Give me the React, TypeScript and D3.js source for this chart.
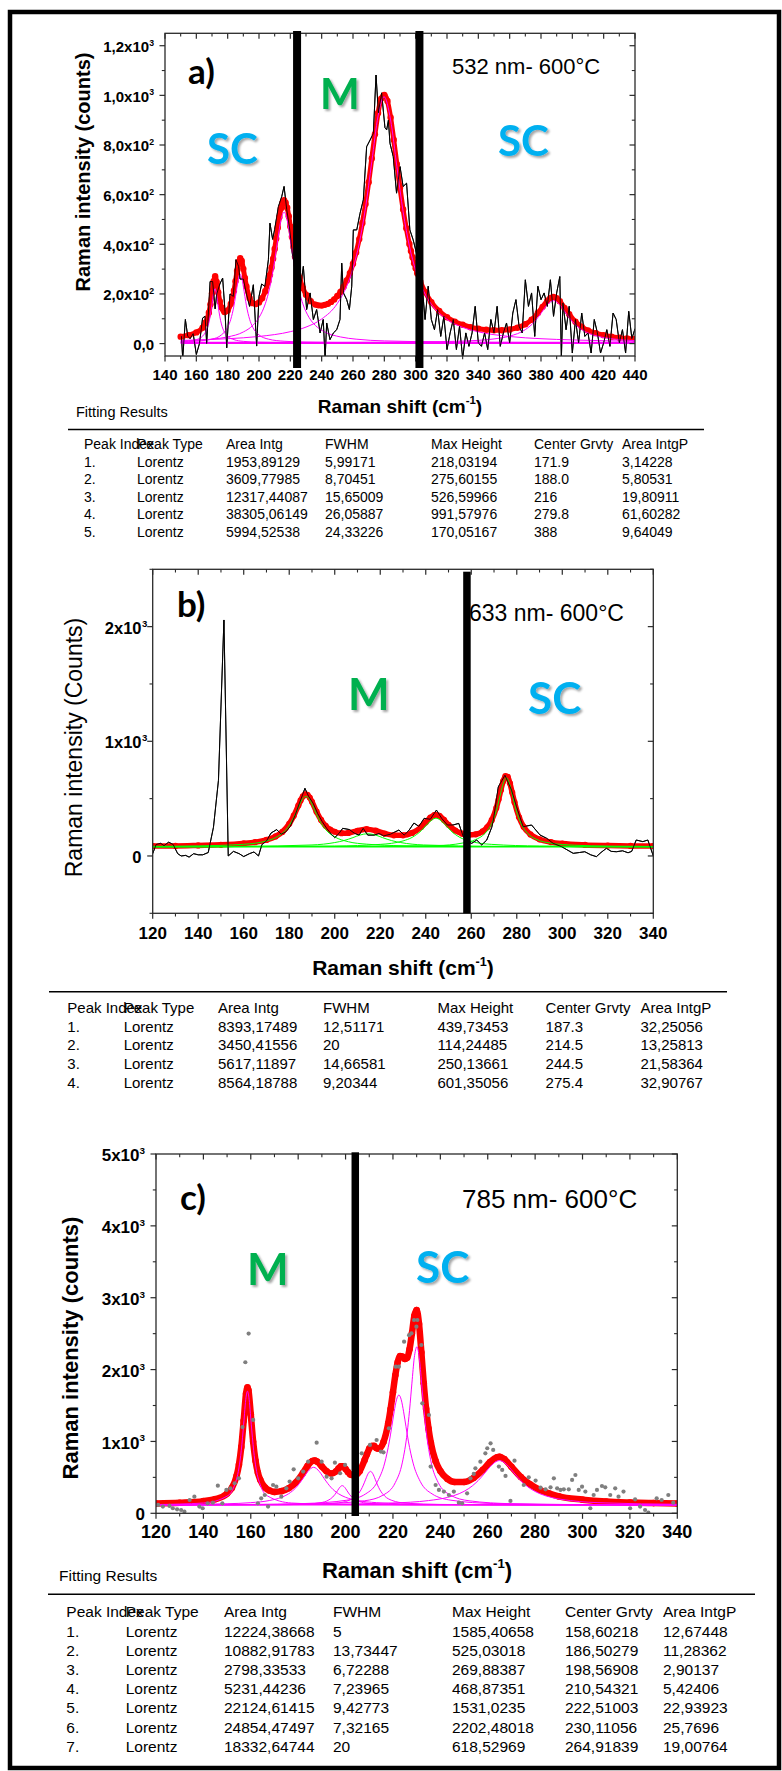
import React from "react";
import * as d3 from "d3";

type Pt = [number, number];

// ---------------- Panel a (532 nm) ----------------
const aRaw: Pt[] = [[150.5,30],[151.3,-60],[153,97],[154.5,30],[156,20],[158,40],[160,-44],[162,0],[164,103],[165.6,110],[166.6,0],[168.8,250],[170.4,250],[172,140],[173,200],[175,240],[176.8,264],[178.3,130],[179.4,-17],[181.5,200],[183.6,190],[185.3,338],[187,310],[187.9,260],[190,260],[192,200],[194,150],[196.4,237],[198.5,-10],[200,190],[201.7,240],[203.8,230],[206,338],[207,485],[208.7,420],[210,460],[212.4,552],[214.5,592],[216,633],[217.7,540],[219.4,470],[221.5,351],[223.5,300],[226,200],[228.3,311],[230.4,137],[232.6,204],[234.7,97],[236.8,137],[239,43],[241,97],[242.2,-60],[243.2,83],[245.3,16],[247.5,43],[249.6,56],[251.7,97],[252.8,324],[253.9,204],[256,177],[257.7,137],[259.2,231],[260.2,458],[262.4,458],[264.5,525],[266.6,579],[268.7,793],[270.9,820],[273,847],[274.7,1082],[276.2,930],[278.3,1010],[279.3,941],[280.4,870],[281.5,861],[282.6,900],[283.6,807],[285.7,753],[287.8,606],[290,713],[292,633],[294.2,646],[296.3,458],[298.4,418],[300.5,365],[302.5,280],[304,244],[306,97],[308,231],[310,97],[312,56],[314,137],[316,29],[318,110],[320,-24],[322,43],[324,97],[326,-24],[328,70],[330,-60],[332,43],[334,-11],[336,43],[338,150],[340,3],[342,-11],[344,43],[346,-24],[348,97],[350,43],[352,150],[354,-11],[356,43],[358,83],[360,3],[362,123],[364,177],[366,70],[368,43],[370,257],[372,150],[374,204],[376,29],[378,231],[380,177],[382,204],[384,150],[386,257],[388,110],[390,204],[392,270],[393,-60],[394,164],[396,56],[398,150],[400,-38],[402,97],[404,3],[406,123],[408,29],[410,43],[412,-38],[414,97],[416,43],[418,-38],[420,3],[422,56],[424,-11],[426,123],[428,97],[430,3],[432,56],[434,-38],[436,130],[438,20],[440,60]];

const aFit: Pt[] = [[150,28],[155,34],[160,45],[164,64],[166,85],[168,124],[169,158],[170,203],[171,250],[172,271],[173,248],[174,206],[175,170],[176,146],[178,127],[180,133],[182,160],[184,213],[185,251],[186,293],[187,329],[188,344],[189,333],[190,301],[191,264],[192,230],[194,184],[196,163],[198,159],[200,166],[202,183],[204,211],[206,251],[207,277],[208,307],[209,342],[210,381],[211,423],[212,467],[213,509],[214,544],[215,567],[216,578],[217,568],[218,547],[219,513],[220,472],[221,430],[222,389],[223,351],[224,318],[226,264],[228,224],[230,197],[233,171],[236,157],[238,154],[240,153],[242,156],[244,160],[246,168],[248,178],[250,192],[252,208],[254,229],[256,254],[258,284],[260,322],[262,367],[264,421],[266,486],[268,562],[270,650],[272,746],[274,843],[276,929],[278,987],[280,1002],[282,977],[284,911],[286,821],[288,723],[290,627],[292,540],[294,465],[296,401],[297,373],[298,348],[299,324],[300,303],[301,283],[303,249],[306,208],[310,167],[315,131],[320,106],[325,88],[330,76],[335,66],[340,60],[345,56],[350,54],[355,54],[360,57],[365,64],[370,78],[374,96],[378,123],[381,148],[384,173],[386,184],[388,188],[390,183],[392,171],[395,144],[398,118],[402,88],[406,68],[410,53],[415,42],[420,34],[425,28],[430,24],[435,21],[440,19]];

const aPeak1: Pt[] = [[150,7],[160,16],[164,30],[166,48],[168,84],[169,116],[170,159],[171,203],[171.9,221],[173,195],[174,149],[175,108],[176,79],[178,45],[180,29],[184,16],[190,9],[200,5.5],[220,3.8],[260,3.3],[440,3]];
const aPeak2: Pt[] = [[150,6.6],[160,9.5],[170,18],[176,35],[180,66],[182,98],[184,152],[185,190],[186,230],[187,265],[188,279],[189,265],[190,230],[191,190],[192,152],[194,98],[196,66],[200,35],[206,18],[216,9.5],[230,6],[260,4],[440,3.1]];
const aPeak3: Pt[] = [[150,10.3],[170,17.8],[180,26.8],[190,46.8],[196,73],[200,104.7],[204,160],[206,203],[208,260.6],[210,334.8],[212,420.6],[214,497.4],[216,529.6],[218,497.4],[220,420.6],[222,334.8],[224,260.6],[226,203],[228,160],[232,104.7],[236,73],[242,46.8],[252,26.8],[262,17.8],[280,10.8],[320,6.5],[380,4.2],[440,3.7]];
const aPeak4: Pt[] = [[150,12.9],[180,19.6],[200,28.7],[220,48],[230,66.5],[240,99],[250,161.5],[256,231.5],[260,303],[264,404.5],[268,548],[272,733],[276,917],[279.8,994.6],[284,901],[288,713],[292,531],[296,392.6],[300,294.6],[306,199.7],[310,158.7],[320,97.3],[330,65.6],[340,47.4],[360,28.5],[380,19.6],[400,14.7],[420,11.5],[440,9.5]];
const aPeak5: Pt[] = [[150,3.4],[250,4.3],[300,6.2],[330,10.2],[350,18.8],[360,30],[370,56.3],[376,89],[380,122],[384,156.4],[388,173],[392,156.4],[396,122],[400,89],[406,56.3],[416,30],[426,18.8],[440,11.8]];
const aBase: Pt[] = [[150,3],[440,3]];
const aDividers = [224.3, 302.4];
const aXTicks = [140,160,180,200,220,240,260,280,300,320,340,360,380,400,420,440];
const aYTicks = [0,200,400,600,800,1000,1200];
const aYLabelMain = ["0,0","2,0x10","4,0x10","6,0x10","8,0x10","1,0x10","1,2x10"];
const aYLabelSup = ["","2","2","2","2","3","3"];
const aTableRows = [
  ["1.","Lorentz","1953,89129","5,99171","218,03194","171.9","3,14228"],
  ["2.","Lorentz","3609,77985","8,70451","275,60155","188.0","5,80531"],
  ["3.","Lorentz","12317,44087","15,65009","526,59966","216","19,80911"],
  ["4.","Lorentz","38305,06149","26,05887","991,57976","279.8","61,60282"],
  ["5.","Lorentz","5994,52538","24,33226","170,05167","388","9,64049"],
];

// ---------------- Panel b (633 nm) ----------------
const bRaw: Pt[] = [[120,20],[121.5,100],[123.5,110],[125,90],[127,120],[129,100],[131,20],[132.5,0],[134.5,5],[136,-10],[138,20],[140,10],[142,10],[144.4,30],[146.7,250],[148.9,660],[151.3,2058],[153.2,0],[155.5,40],[158,20],[160,-5],[162.5,20],[164.5,35],[166.5,0],[168,100],[170,130],[172,200],[174.5,230],[176.5,190],[178.5,210],[180.5,260],[182.5,350],[184.5,460],[186.9,590],[188.5,520],[190.5,460],[192.5,370],[194.5,300],[196.5,240],[198.5,190],[200,160],[201.9,197],[203.5,241],[206.5,230],[208.5,200],[210.7,182],[212.5,241],[214.5,182],[217.3,182],[219.5,197],[221.5,175],[224.5,190],[228.2,226],[230.5,182],[232.5,220],[234.8,287],[237,258],[239.3,328],[242,320],[244.7,400],[247,328],[249.5,270],[252,270],[254.5,284],[256.5,168],[258.5,125],[260.2,110],[262.4,139],[264.6,96],[266.8,139],[269,250],[269.7,313],[271.9,603],[274.8,704],[277.7,574],[279.9,429],[282.8,255],[286.5,270],[290.2,183],[293.1,154],[296,110],[299.7,81],[304.8,23],[307.5,30],[309.9,37],[312.5,10],[315,-6],[317,30],[319.4,67],[321.5,40],[323.8,37],[326.5,45],[328.9,28],[330.5,40],[332.5,139],[335.4,125],[337.6,139],[340,0]];

const bFit: Pt[] = [[120,87],[130,88],[140,92],[150,97],[160,109],[165,120],[170,140],[174,170],[177,210],[180,280],[182,351],[184,440],[185,484],[186,519],[187,538],[188,534],[189,510],[190,473],[192,386],[194,314],[196,263],[198,231],[200,211],[203,199],[206,201],[210,220],[214,234],[218,221],[222,195],[226,180],[230,180],[234,201],[238,253],[240,293],[242,334],[244,359],[246,350],[248,314],[250,272],[253,222],[256,194],[259,184],[262,189],[265,214],[267,250],[269,312],[271,418],[272,492],[273,574],[274,651],[275,696],[276,690],[277,634],[278,553],[279,469],[281,337],[283,255],[286,188],[290,145],[295,121],[300,108],[310,96],[320,91],[330,88],[340,86]];

const bPeak1: Pt[] = [[120,84],[140,88],[160,102],[170,131],[174,160],[177,199],[180,266],[182,336],[184,424],[186,502],[187.3,520],[189,490],[190,451],[192,361],[194,285],[196,230],[198,192],[200,166],[206,124],[214,103],[230,89],[260,83],[340,81]];
const bPeak2: Pt[] = [[120,81],[160,84],[190,96],[200,117],[204,134],[208,160],[211,182],[214.5,194],[218,182],[221,160],[225,134],[229,117],[239,96],[270,84],[340,81]];
const bPeak3: Pt[] = [[120,81],[200,87],[220,101],[230,131],[234,162],[238,220],[241,284],[244.5,330],[248,284],[251,220],[255,162],[259,131],[269,101],[290,87],[340,81.4]];
const bPeak4: Pt[] = [[120,80.5],[200,83.3],[230,86],[245,90.5],[256,112],[262,143.5],[265,178],[267,219],[269,285],[271,394],[273,553],[274,630],[275.4,681],[276.8,630],[277.8,553],[279.8,394],[281.8,285],[283.8,219],[285.8,178],[288.8,143.5],[294.8,112],[305.4,94],[320.4,86],[340,83]];
const bBase: Pt[] = [[120,80],[340,80]];
const bDividers = [258.1];
const bXTicks = [120,140,160,180,200,220,240,260,280,300,320,340];
const bYTicks = [0,1000,2000];
const bYLabelMain = ["0","1x10","2x10"];
const bYLabelSup = ["","3","3"];
const bTableRows = [
  ["1.","Lorentz","8393,17489","12,51171","439,73453","187.3","32,25056"],
  ["2.","Lorentz","3450,41556","20","114,24485","214.5","13,25813"],
  ["3.","Lorentz","5617,11897","14,66581","250,13661","244.5","21,58364"],
  ["4.","Lorentz","8564,18788","9,20344","601,35056","275.4","32,90767"],
];

// ---------------- Panel c (785 nm) ----------------
const cScatter: Pt[] = [[120.9,116],[122.9,93],[125.7,102],[127.1,70],[128.9,56],[130.6,46],[132,23],[134.2,185],[136.2,232],[138.3,93],[139.7,70],[141.8,139],[144,148],[146.1,385],[148,139],[149.7,325],[151.4,348],[153.2,418],[155,487],[156.5,1200],[157.7,2102],[159.1,2501],[161,1300],[163,139],[164.4,209],[165.9,255],[167.3,93],[169.4,394],[170.8,371],[172.9,232],[175,348],[176.4,441],[178.1,612],[180,487],[182.1,580],[184.2,719],[187.8,983],[189.9,719],[192,510],[194.1,487],[195.5,705],[197.7,557],[199.8,673],[206.8,835],[210.3,951],[213.1,1020],[214.9,859],[216,849],[218.3,1183],[221.2,2040],[222.5,2040],[224.7,2388],[226.8,2479],[227.8,2504],[228.9,2690],[229.9,2597],[230.3,2690],[232,2342],[232.4,1531],[235.2,1368],[235.9,650],[238,394],[239.4,325],[241.5,302],[243.6,255],[245.7,302],[247.8,148],[249.2,139],[251.3,278],[252.7,487],[254.1,548],[254.8,626],[256.9,719],[259,835],[259.8,905],[261.2,974],[262.3,882],[264.7,650],[266.1,603],[267.5,520],[269.6,172],[271.3,733],[275.2,394],[277.3,501],[280.2,455],[282.3,357],[284.4,334],[286.5,362],[287.9,487],[289.3,348],[290.7,325],[292.1,334],[294.2,334],[295.6,464],[297,533],[298.4,325],[299.8,371],[301.2,302],[303.3,70],[304.7,255],[306.1,325],[308.2,380],[309.6,362],[311.7,255],[313.8,348],[315.2,232],[317.3,302],[320.1,70],[322.2,195],[324.3,93],[326.4,46],[327.8,9],[331.3,209],[333.4,185],[336.2,255],[338.3,148]];

const cFit: Pt[] = [[120,137],[130,147],[140,169],[145,197],[150,275],[152,353],[154,519],[155,676],[156,923],[157,1288],[158,1664],[158.6,1752],[159,1713],[160,1377],[161,997],[162,732],[163,565],[164,467],[166,359],[168,315],[170,298],[173,308],[176,349],[179,429],[182,560],[184,662],[186,728],[187,734],[188,719],[190,652],[192,584],[194,553],[196,584],[197,621],[198,654],[199,654],[200,617],[201,573],[202,539],[204,528],[206,590],[208,739],[209,820],[210,901],[211,936],[212,938],[213,907],[214,898],[216,992],[218,1251],[219,1450],[220,1685],[221,1921],[222,2103],[223,2187],[224,2180],[225,2148],[226,2165],[227,2283],[228,2502],[229,2744],[230,2830],[231,2635],[232,2237],[233,1810],[234,1452],[235,1180],[236,981],[238,726],[240,589],[243,479],[246,435],[250,435],[254,492],[258,607],[261,714],[264,781],[265,786],[267,754],[270,647],[274,505],[278,400],[282,325],[286,275],[290,235],[300,190],[310,163],[320,150],[330,142],[340,137]];

const cPeak1: Pt[] = [[120,122],[140,143],[150,239],[153,378],[155,631],[156,877],[157,1240],[158,1614],[158.6,1700],[159.2,1614],[160.2,1240],[161.2,877],[162.2,631],[164.2,378],[167.2,239],[177.2,143],[200,121],[340,115.3]];
const cPeak2: Pt[] = [[120,120.5],[130,122.7],[150,133],[160,148],[168,178.6],[173,223],[176,272.4],[179,354.7],[182,482.4],[184,578.6],[186.5,640],[189,578.6],[191,482.4],[194,354.7],[197,272.4],[200,223],[205,178.6],[213,148],[223,133],[243,122.7],[280,118],[340,116]];
const cPeak3: Pt[] = [[120,115.5],[170,118.4],[183.6,127.9],[189.6,148],[192.6,179.5],[194.6,226.7],[195.6,265.3],[196.6,314.3],[197.6,363],[198.57,385],[199.6,363],[200.6,314.3],[201.6,265.3],[202.6,226.7],[204.6,179.5],[207.6,148],[213.6,127.9],[228.6,118.4],[340,115.1]];
const cPeak4: Pt[] = [[120,115.8],[180,121.7],[195.5,140.8],[201.5,180.3],[204.5,240],[206.5,326],[207.5,393],[208.5,474.3],[209.5,550.7],[210.54,583.9],[211.5,550.7],[212.5,474.3],[213.5,393],[214.5,326],[216.5,240],[219.5,180.3],[225.5,140.8],[240.5,121.7],[340,115.5]];
const cPeak5: Pt[] = [[120,118.4],[160,123.6],[182.5,135.9],[200.5,182.1],[208.5,270.7],[213.5,444],[216.5,699],[218.5,1005],[219.5,1204.7],[220.5,1412.5],[221.5,1580],[222.51,1646],[223.5,1580],[224.5,1412.5],[225.5,1204.7],[226.5,1005],[228.5,699],[231.5,444],[236.5,270.7],[244.5,182.1],[262.5,135.9],[300,120.6],[340,118.4]];
const cPeak6: Pt[] = [[120,117.5],[170,123.2],[190,133.3],[208,174.4],[216,255.9],[221,427.6],[224,712.5],[226,1118.9],[227,1432.6],[228,1811],[229,2164.6],[230.11,2317.5],[231.1,2164.6],[232.1,1811],[233.1,1432.6],[234.1,1118.9],[236.1,712.5],[239.1,427.6],[244.1,255.9],[252.1,174.4],[270.1,133.3],[300,121],[340,117.4]];
const cPeak7: Pt[] = [[120,117.9],[190,125.8],[220,144.1],[235,176.9],[243,220.9],[248,274],[252,344.9],[255,424.3],[257,492.1],[259,569.8],[261,648.2],[263,709.7],[264.92,733.5],[266.9,709.7],[268.9,648.2],[270.9,569.8],[272.9,492.1],[274.9,424.3],[277.9,344.9],[281.9,274],[286.9,220.9],[294.9,176.9],[309.9,144.1],[340,125.8]];
const cBase: Pt[] = [[120,118],[340,118]];
const cDividers = [204.1];
const cXTicks = [120,140,160,180,200,220,240,260,280,300,320,340];
const cYTicks = [0,1000,2000,3000,4000,5000];
const cYLabelMain = ["0","1x10","2x10","3x10","4x10","5x10"];
const cYLabelSup = ["","3","3","3","3","3"];
const cTableRows = [
  ["1.","Lorentz","12224,38668","5","1585,40658","158,60218","12,67448"],
  ["2.","Lorentz","10882,91783","13,73447","525,03018","186,50279","11,28362"],
  ["3.","Lorentz","2798,33533","6,72288","269,88387","198,56908","2,90137"],
  ["4.","Lorentz","5231,44236","7,23965","468,87351","210,54321","5,42406"],
  ["5.","Lorentz","22124,61415","9,42773","1531,0235","222,51003","22,93923"],
  ["6.","Lorentz","24854,47497","7,32165","2202,48018","230,11056","25,7696"],
  ["7.","Lorentz","18332,64744","20","618,52969","264,91839","19,00764"],
];

const tableHeaders = ["Peak Index","Peak Type","Area Intg","FWHM","Max Height","Center Grvty","Area IntgP"];

// ---------------- Styling / layout ----------------
const SANS = "'Liberation Sans', Arial, Helvetica, sans-serif";
const CAL = "Lato, 'Open Sans', sans-serif";
const RED = "#ff0000";
const MAGENTA = "#ff00ff";
const GREEN = "#00ff00";
const SC_BLUE = "#00b0f0";
const M_GREEN = "#00b050";

interface PanelProps {
  id: string;
  left: number; right: number; top: number; bottom: number;
  xDomain: [number, number]; yDomain: [number, number];
  xMinorStep: number; yMinorStep: number;
  xTicks: number[]; yTicks: number[]; yMain: string[]; ySup: string[];
  xTickFont: number; yTickFont: number; xLabelY: number; yLabelX: number; supOutside: boolean;
  raw?: Pt[]; scatter?: Pt[]; fit: Pt[]; comps: Pt[][]; base: Pt[];
  compColor: string; baseWidth: number; fitWidth: number; dotR: number;
  dividers: number[]; divW: number; divTop: number; divBottom: number;
}

function Panel(p: PanelProps) {
  const x = d3.scaleLinear().domain(p.xDomain).range([p.left, p.right]);
  const y = d3.scaleLinear().domain(p.yDomain).range([p.bottom, p.top]);
  const lineLin = d3.line<Pt>().x(d => x(d[0])).y(d => y(d[1]));
  const lineSmooth = d3.line<Pt>().x(d => x(d[0])).y(d => y(d[1])).curve(d3.curveMonotoneX);
  const clipId = "clip-" + p.id;
  const xMinor = d3.range(p.xDomain[0], p.xDomain[1] + 1e-6, p.xMinorStep).filter(v => !p.xTicks.includes(v));
  const yStart = Math.ceil(p.yDomain[0] / p.yMinorStep) * p.yMinorStep;
  const yMinor = d3.range(yStart, p.yDomain[1] + 1e-6, p.yMinorStep).filter(v => !p.yTicks.includes(v));
  const MJ = 5.5, MN = 3.2;
  const axisColor = "#2a2a2a";
  return (
    <g>
      <defs>
        <clipPath id={clipId}>
          <rect x={p.left} y={p.top} width={p.right - p.left} height={p.bottom - p.top} />
        </clipPath>
      </defs>
      <g clipPath={`url(#${clipId})`}>
        {p.raw && <path d={lineLin(p.raw) || ""} fill="none" stroke="#000" strokeWidth={1} />}
        <path d={lineSmooth(p.fit) || ""} fill="none" stroke={RED} strokeWidth={p.fitWidth} strokeLinejoin="round" />
        {p.fit.map((d, i) => (
          <circle key={"f" + i} cx={x(d[0])} cy={y(d[1])} r={p.dotR} fill={RED} />
        ))}
        <path d={lineLin(p.base) || ""} fill="none" stroke={p.compColor} strokeWidth={p.baseWidth} />
        {p.comps.map((c, i) => (
          <path key={"c" + i} d={lineSmooth(c) || ""} fill="none" stroke={p.compColor} strokeWidth={1} />
        ))}
        {p.raw && <path d={lineLin(p.raw) || ""} fill="none" stroke="#000" strokeWidth={1} opacity={0.85} />}
        {p.scatter && p.scatter.map((d, i) => (
          <circle key={"s" + i} cx={x(d[0])} cy={y(d[1])} r={2.1} fill="#7f7f7f" />
        ))}
      </g>
      {/* frame */}
      <rect x={p.left} y={p.top} width={p.right - p.left} height={p.bottom - p.top} fill="none" stroke={axisColor} strokeWidth={1.3} />
      {/* x ticks */}
      {p.xTicks.map(v => (
        <g key={"xt" + v}>
          <line x1={x(v)} x2={x(v)} y1={p.bottom} y2={p.bottom + MJ} stroke={axisColor} strokeWidth={1.2} />
          <line x1={x(v)} x2={x(v)} y1={p.top} y2={p.top + MJ} stroke={axisColor} strokeWidth={1.2} />
          <text x={x(v)} y={p.xLabelY} textAnchor="middle" fontFamily={SANS} fontWeight="bold" fontSize={p.xTickFont}>{v}</text>
        </g>
      ))}
      {xMinor.map(v => (
        <g key={"xm" + v}>
          <line x1={x(v)} x2={x(v)} y1={p.bottom} y2={p.bottom + MN} stroke={axisColor} strokeWidth={1.1} />
          <line x1={x(v)} x2={x(v)} y1={p.top} y2={p.top + MN} stroke={axisColor} strokeWidth={1.1} />
        </g>
      ))}
      {/* y ticks */}
      {p.yTicks.map((v, i) => {
        const ty = y(v);
        const by = ty + p.yTickFont * 0.42;
        const s = p.yTickFont;
        return (
          <g key={"yt" + v}>
            <line x1={p.left} x2={p.left - MJ} y1={ty} y2={ty} stroke={axisColor} strokeWidth={1.2} />
            <line x1={p.right} x2={p.right - MJ} y1={ty} y2={ty} stroke={axisColor} strokeWidth={1.2} />
            {p.supOutside ? (
              <g>
                <text x={p.yLabelX} y={by} textAnchor="end" fontFamily={SANS} fontWeight="bold" fontSize={s}>{p.yMain[i]}</text>
                {p.ySup[i] && <text x={p.yLabelX + 0.5} y={by - s * 0.42} fontFamily={SANS} fontWeight="bold" fontSize={s * 0.58}>{p.ySup[i]}</text>}
              </g>
            ) : (
              <text x={p.yLabelX} y={by} textAnchor="end" fontFamily={SANS} fontWeight="bold" fontSize={s}>
                {p.yMain[i]}
                {p.ySup[i] && <tspan dy={-s * 0.42} fontSize={s * 0.58}>{p.ySup[i]}</tspan>}
              </text>
            )}
          </g>
        );
      })}
      {yMinor.map(v => (
        <g key={"ym" + v}>
          <line x1={p.left} x2={p.left - MN} y1={y(v)} y2={y(v)} stroke={axisColor} strokeWidth={1.1} />
          <line x1={p.right} x2={p.right - MN} y1={y(v)} y2={y(v)} stroke={axisColor} strokeWidth={1.1} />
        </g>
      ))}
      {/* divider bars */}
      {p.dividers.map((v, i) => (
        <rect key={"d" + i} x={x(v) - p.divW / 2} y={p.divTop} width={p.divW} height={p.divBottom - p.divTop} fill="#000" />
      ))}
    </g>
  );
}

function XTitle({ x, y, size }: { x: number; y: number; size: number }) {
  return (
    <text x={x} y={y} textAnchor="middle" fontFamily={SANS} fontWeight="bold" fontSize={size}>
      Raman shift (cm<tspan dy={-size * 0.45} fontSize={size * 0.6}>-1</tspan><tspan dy={size * 0.45}>)</tspan>
    </text>
  );
}

function Table({ cols, headerY, rowY0, rowStep, size, rows }: { cols: number[]; headerY: number; rowY0: number; rowStep: number; size: number; rows: string[][] }) {
  return (
    <g fontFamily={SANS} fontSize={size}>
      {tableHeaders.map((h, i) => (
        <text key={"h" + i} x={cols[i]} y={headerY}>{h}</text>
      ))}
      {rows.map((r, ri) => r.map((c, ci) => (
        <text key={ri + "-" + ci} x={cols[ci]} y={rowY0 + ri * rowStep}>{c}</text>
      )))}
    </g>
  );
}

function Tag({ x, y, text, color, size }: { x: number; y: number; text: string; color: string; size: number }) {
  return (
    <text x={x} y={y} fontFamily={CAL} fontWeight={700} fontSize={size} fill={color} filter="url(#shadow)">{text}</text>
  );
}

export default function App() {
  return (
    <svg width={782} height={1771} style={{ position: "absolute", left: 0, top: 0, background: "#fff" }} xmlns="http://www.w3.org/2000/svg">
      <defs>
        <filter id="shadow" x="-20%" y="-20%" width="150%" height="150%">
          <feDropShadow dx="2" dy="2" stdDeviation="1.2" floodColor="#000" floodOpacity="0.35" />
        </filter>
      </defs>
      <rect x={0} y={0} width={782} height={1771} fill="#fff" />
      <rect x={10} y={12} width={769} height={1756} fill="none" stroke="#000" strokeWidth={4.5} />

      {/* ---------- Panel a ---------- */}
      <text x={452} y={74} fontFamily={SANS} fontSize={22}>532 nm- 600°C</text>
      <Panel id="a" left={165} right={635} top={33.3} bottom={356} xDomain={[140, 440]} yDomain={[-50, 1250]}
        xMinorStep={10} yMinorStep={100} xTicks={aXTicks} yTicks={aYTicks} yMain={aYLabelMain} ySup={aYLabelSup}
        xTickFont={15} yTickFont={15} xLabelY={380} yLabelX={154} supOutside={false}
        raw={aRaw} fit={aFit} comps={[aPeak1, aPeak2, aPeak3, aPeak4, aPeak5]} base={aBase}
        compColor={MAGENTA} baseWidth={2.2} fitWidth={5} dotR={3.2}
        dividers={aDividers} divW={8} divTop={31} divBottom={368} />
      <text x={188} y={84} fontFamily={CAL} fontWeight={700} fontSize={35}>a)</text>
      <Tag x={320} y={109} text="M" color={M_GREEN} size={42} />
      <Tag x={207} y={163.5} text="SC" color={SC_BLUE} size={42} />
      <Tag x={498} y={156} text="SC" color={SC_BLUE} size={42} />
      <text transform="translate(90,172) rotate(-90)" textAnchor="middle" fontFamily={SANS} fontWeight="bold" fontSize={20}>Raman intensity (counts)</text>
      <XTitle x={400} y={413} size={19} />
      <text x={76} y={417} fontFamily={SANS} fontSize={14.5}>Fitting Results</text>
      <line x1={68} x2={704} y1={429.5} y2={429.5} stroke="#000" strokeWidth={1.5} />
      <Table cols={[84, 137, 226, 325, 431, 534, 622]} headerY={449} rowY0={467} rowStep={17.4} size={14} rows={aTableRows} />

      {/* ---------- Panel b ---------- */}
      <text x={469} y={621} fontFamily={SANS} fontSize={23}>633 nm- 600°C</text>
      <Panel id="b" left={152.7} right={653.3} top={569.3} bottom={913.3} xDomain={[120, 340]} yDomain={[-500, 2500]}
        xMinorStep={10} yMinorStep={500} xTicks={bXTicks} yTicks={bYTicks} yMain={bYLabelMain} ySup={bYLabelSup}
        xTickFont={17} yTickFont={16.5} xLabelY={938.5} yLabelX={141.5} supOutside={true}
        raw={bRaw} fit={bFit} comps={[bPeak1, bPeak2, bPeak3, bPeak4]} base={bBase}
        compColor={GREEN} baseWidth={1.5} fitWidth={5.5} dotR={3.1}
        dividers={bDividers} divW={7.5} divTop={571.7} divBottom={913.3} />
      <text x={177} y={617} fontFamily={CAL} fontWeight={700} fontSize={35}>b)</text>
      <Tag x={348} y={710} text="M" color={M_GREEN} size={44} />
      <Tag x={528} y={714} text="SC" color={SC_BLUE} size={44} />
      <text transform="translate(81.5,747.5) rotate(-90)" textAnchor="middle" fontFamily={SANS} fontSize={23}>Raman intensity (Counts)</text>
      <XTitle x={403} y={975} size={21} />
      <line x1={49} x2={727} y1={991.7} y2={991.7} stroke="#000" strokeWidth={1.5} />
      <Table cols={[67.3, 123.7, 218, 323, 437.4, 545.6, 640.4]} headerY={1013.3} rowY0={1031.7} rowStep={18.6} size={15} rows={bTableRows} />

      {/* ---------- Panel c ---------- */}
      <text x={462} y={1208} fontFamily={SANS} fontSize={26}>785 nm- 600°C</text>
      <Panel id="c" left={156} right={677.3} top={1154} bottom={1513.3} xDomain={[120, 340]} yDomain={[0, 5000]}
        xMinorStep={10} yMinorStep={500} xTicks={cXTicks} yTicks={cYTicks} yMain={cYLabelMain} ySup={cYLabelSup}
        xTickFont={18} yTickFont={17} xLabelY={1538} yLabelX={145} supOutside={false}
        scatter={cScatter} fit={cFit} comps={[cPeak1, cPeak2, cPeak3, cPeak4, cPeak5, cPeak6, cPeak7]} base={cBase}
        compColor={MAGENTA} baseWidth={1.5} fitWidth={6.5} dotR={3.3}
        dividers={cDividers} divW={7.5} divTop={1152.3} divBottom={1516} />
      <text x={180} y={1210} fontFamily={CAL} fontWeight={700} fontSize={35}>c)</text>
      <Tag x={247} y={1285} text="M" color={M_GREEN} size={44} />
      <Tag x={416} y={1283} text="SC" color={SC_BLUE} size={44} />
      <text transform="translate(77.5,1348) rotate(-90)" textAnchor="middle" fontFamily={SANS} fontWeight="bold" fontSize={22}>Raman intensity (counts)</text>
      <XTitle x={417} y={1578} size={22} />
      <text x={59} y={1581} fontFamily={SANS} fontSize={15.5}>Fitting Results</text>
      <line x1={48} x2={755} y1={1594.3} y2={1594.3} stroke="#000" strokeWidth={1.5} />
      <Table cols={[66.3, 125.7, 224, 333, 452, 565, 663]} headerY={1616.7} rowY0={1636.5} rowStep={19.2} size={15.5} rows={cTableRows} />
    </svg>
  );
}
